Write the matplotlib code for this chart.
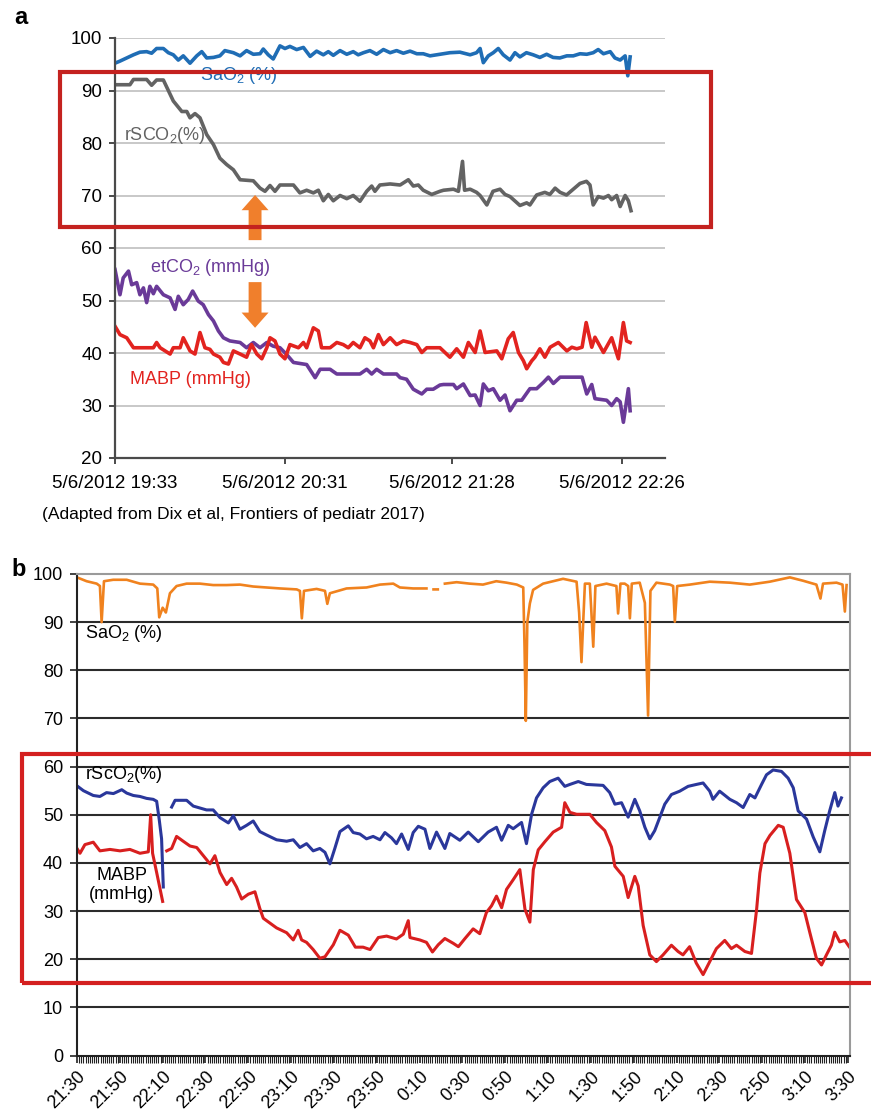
import numpy as np
import matplotlib
matplotlib.use("Agg")
import matplotlib.pyplot as plt
from matplotlib.patches import Rectangle, FancyArrow

plt.rcParams['font.family'] = ['Liberation Sans', 'DejaVu Sans']
plt.rcParams['mathtext.fontset'] = 'custom'
plt.rcParams['mathtext.rm'] = 'Liberation Sans'
plt.rcParams['mathtext.default'] = 'regular'

nan = np.nan

# ---- panel a: minutes after 5/6/2012 19:33 ----
a_tick_min = [0, 58, 115, 173]
a_tick_labels = ["5/6/2012 19:33", "5/6/2012 20:31", "5/6/2012 21:28", "5/6/2012 22:26"]

a_sao2_t = [0, 1.7, 4.0, 6.3, 8.5, 10.8, 12.5, 14.2, 16.5, 18.2, 19.9, 21.6, 23.3, 25.6, 27.9,
            29.6, 31.3, 33.6, 35.8, 37.5, 40.4, 42.7, 44.9, 47.2, 49.5, 50.6, 52.3, 54.0, 56.3,
            58.0, 59.7, 62.0, 64.3, 66.6, 68.8, 71.1, 72.8, 74.5, 76.8, 79.1, 81.3, 83.0, 84.8,
            87.0, 89.3, 91.6, 93.9, 96.1, 98.4, 100.7, 103.0, 105.2, 107.5, 110.9, 114.3, 117.7,
            121.2, 123.4, 124.6, 125.7, 127.4, 129.1, 130.8, 132.5, 134.8, 136.5, 138.2, 140.4,
            142.7, 145.0, 147.3, 149.5, 151.8, 154.2, 156.4, 158.7, 161.0, 163.2, 164.9, 166.7,
            169.0, 170.6, 172.4, 174.1, 175.0, 175.8]
a_sao2 = [95.2, 95.6, 96.2, 96.8, 97.3, 97.4, 97.1, 98.0, 98.0, 97.2, 96.8, 95.8, 96.6, 95.2, 96.6,
          97.4, 96.2, 96.3, 96.6, 97.6, 97.2, 96.6, 97.6, 96.9, 97.0, 97.9, 96.8, 96.0, 98.5,
          98.0, 98.4, 97.8, 98.2, 96.5, 97.5, 96.8, 97.4, 96.7, 97.6, 96.9, 97.4, 96.8, 97.2,
          97.6, 96.9, 97.8, 97.2, 97.6, 97.1, 97.5, 97.0, 97.0, 96.6, 96.9, 97.2, 97.3,
          96.8, 97.2, 98.0, 95.3, 96.6, 97.2, 98.0, 96.8, 95.8, 97.2, 96.4, 97.2,
          96.8, 96.3, 96.9, 96.3, 96.2, 96.6, 96.6, 97.0, 96.9, 97.2, 97.8, 97.0,
          97.4, 96.2, 95.8, 96.6, 92.8, 96.4]

a_rsco2_t = [0, 5.1, 6.3, 10.8, 12.5, 14.2, 16.5, 19.9, 22.8, 24.5, 25.6, 27.3, 29.0, 31.3, 33.6,
             35.8, 38.1, 40.4, 42.7, 47.2, 49.5, 51.2, 52.9, 54.6, 56.3, 60.9, 63.1, 65.4, 67.7,
             69.4, 71.1, 72.8, 74.5, 76.8, 79.1, 81.3, 83.6, 85.9, 87.6, 88.7, 90.4, 93.9, 97.3,
             100.1, 101.8, 103.5, 105.2, 108.1, 110.9, 112.1, 115.5, 117.2, 118.6, 119.3, 121.2,
             123.4, 124.6, 126.9, 129.0, 131.4, 133.1, 134.8, 138.2, 140.5, 141.6, 143.9, 146.7,
             148.4, 150.2, 151.9, 154.1, 156.4, 158.7, 160.9, 162.1, 163.2, 164.9, 166.7, 168.4,
             169.5, 171.2, 172.4, 174.1, 175.2, 176.1]
a_rsco2 = [91.1, 91.1, 92.1, 92.1, 91.0, 92.0, 92.0, 88.0, 86.0, 86.0, 84.8, 85.6, 84.8, 81.6, 79.7,
           77.1, 75.9, 74.9, 73.0, 72.8, 71.4, 70.8, 71.9, 70.8, 72.0, 72.0, 70.5, 71.0, 70.5,
           71.0, 69.0, 70.2, 69.0, 70.0, 69.4, 70.0, 68.9, 70.8, 71.8, 70.8, 72.0, 72.2, 72.0,
           73.0, 71.8, 72.0, 71.0, 70.2, 70.8, 71.0, 71.2, 70.8, 76.5, 71.0, 71.2,
           70.6, 70.0, 68.2, 70.8, 71.2, 70.2, 69.8, 68.1, 68.6, 68.2, 70.1, 70.6,
           70.2, 71.4, 70.6, 70.1, 71.2, 72.3, 72.7, 72.0, 68.2, 69.8, 69.5, 70.0,
           69.2, 70.0, 67.9, 70.0, 69.0, 67.1]

a_etco2_t = [0, 1.7, 2.8, 4.6, 5.7, 7.4, 8.5, 9.7, 10.8, 11.9, 13.1, 14.2, 16.5, 18.8, 20.5, 21.6,
             23.3, 25.0, 26.5, 28.4, 30.1, 31.9, 33.6, 35.3, 37.0, 39.2, 42.7, 44.9, 47.2, 49.5,
             51.8, 54.0, 56.3, 58.6, 60.9, 65.4, 68.3, 70.0, 73.4, 75.7, 83.6, 85.9, 87.6, 89.3,
             91.6, 96.1, 97.3, 99.5, 101.8, 104.7, 106.4, 108.6, 110.9, 112.1, 115.5, 116.6,
             118.9, 121.2, 122.9, 124.6, 125.7, 127.4, 129.1, 131.4, 133.1, 134.8, 137.1, 138.8,
             141.6, 143.9, 146.2, 147.9, 149.6, 151.9, 159.4, 161.0, 162.7, 163.8, 167.8, 169.5,
             171.2, 172.4, 173.5, 175.2, 175.8]
a_etco2 = [55.9, 51.1, 54.3, 55.6, 53.0, 53.4, 51.1, 52.4, 49.6, 52.7, 51.3, 52.7, 51.1, 50.5, 48.3, 50.8,
           49.2, 50.2, 51.8, 49.9, 49.2, 47.3, 46.1, 44.2, 42.9, 42.3, 42.0, 41.0, 42.0, 41.0,
           42.0, 41.3, 41.0, 39.7, 38.2, 37.8, 35.3, 36.9, 36.9, 36.0, 36.0, 36.9, 36.0, 36.9,
           36.0, 36.0, 35.3, 35.0, 33.1, 32.2, 33.1, 33.1, 33.9, 34.0, 34.0, 33.2,
           34.1, 31.9, 32.0, 30.0, 34.1, 32.8, 33.2, 31.0, 32.0, 29.0, 31.0, 31.0,
           33.2, 33.2, 34.4, 35.4, 34.2, 35.4, 35.4, 32.2, 34.0, 31.3, 31.0, 30.0,
           31.3, 30.7, 26.8, 33.2, 29.0]

a_mabp_t = [0, 1.7, 4.0, 6.3, 13.1, 14.2, 15.4, 17.1, 18.8, 19.9, 22.2, 23.3, 25.6, 27.3, 29.0,
            30.7, 32.4, 33.6, 35.8, 37.0, 38.7, 40.4, 42.7, 44.9, 46.6, 48.4, 50.1, 51.8, 52.9,
            54.6, 56.3, 58.0, 59.7, 62.6, 64.3, 65.4, 67.7, 69.4, 70.5, 73.4, 75.7, 77.9, 79.6,
            81.3, 83.6, 85.3, 87.0, 88.2, 89.9, 91.6, 93.9, 96.1, 98.4, 100.7, 103.0, 104.7,
            106.4, 110.9, 114.3, 116.6, 118.9, 120.6, 122.9, 124.6, 126.3, 130.3, 132.0, 134.2,
            135.9, 137.7, 139.4, 140.5, 142.2, 143.3, 145.0, 146.7, 148.5, 151.3, 154.2, 155.9,
            157.6, 159.4, 160.8, 162.7, 163.8, 166.7, 169.5, 171.8, 173.5, 174.6, 175.8]
a_mabp = [45.1, 43.5, 42.9, 41.0, 41.0, 42.0, 41.0, 40.4, 39.8, 41.0, 41.0, 42.9, 40.4, 39.8, 43.9,
          41.0, 40.7, 39.8, 39.2, 38.2, 37.9, 40.4, 39.8, 39.2, 41.6, 39.8, 38.9, 41.0, 42.9,
          42.3, 39.8, 38.9, 41.6, 41.0, 42.0, 41.0, 44.8, 44.2, 41.0, 41.0, 42.0, 41.6, 41.0,
          42.0, 41.0, 42.9, 42.3, 41.0, 43.5, 41.6, 42.9, 41.6, 42.3, 42.0, 41.6, 40.1,
          41.0, 41.0, 39.2, 40.8, 39.2, 42.0, 40.1, 44.2, 40.1, 40.4, 38.9, 42.7,
          43.9, 40.1, 38.5, 37.0, 38.5, 39.2, 40.8, 39.2, 41.1, 42.0, 40.4, 41.1,
          40.8, 41.1, 45.8, 41.1, 43.0, 40.1, 42.9, 38.9, 45.8, 42.3, 42.0]

# ---- panel b: minutes after 21:30 ----
b_tick_min = list(range(0, 361, 20))
b_tick_labels = ["21:30", "21:50", "22:10", "22:30", "22:50", "23:10", "23:30", "23:50", "0:10",
                 "0:30", "0:50", "1:10", "1:30", "1:50", "2:10", "2:30", "2:50", "3:10", "3:30"]

b_sao2_t = [0, 4.5, 9.2, 10.7, 11.5, 12.6, 16.9, 23.2, 29.4, 35.6, 37.5, 38.4, 40.0, 41.5, 43.4,
            46.5, 51.2, 57.4, 63.6, 69.9, 76.1, 82.3, 88.5, 94.8, 102.6, 104.1, 105.0, 106.0,
            111.9, 115.8, 116.9, 118.1, 125.9, 135.2, 141.5, 147.7, 150.8, 157.0, 163.2, 164.0,
            166.5, 168.5, 169.5, 171.8, 177.3, 183.4, 189.6, 195.8, 200.6, 205.4, 208.4, 209.0,
            209.6, 210.3, 211.5, 213.0, 217.7, 227.0, 233.3, 234.5, 235.6, 236.4, 237.2, 239.5,
            241.1, 242.1, 247.3, 251.9, 252.7, 253.8, 255.8, 257.4, 258.2, 259.1, 262.8, 265.2,
            266.7, 267.8, 270.6, 276.9, 278.4, 279.2, 280.3, 286.2, 295.5, 304.9, 314.2, 323.5,
            332.9, 339.1, 345.3, 347.2, 348.4, 354.7, 357.5, 358.6, 359.4]
b_sao2 = [99.3, 98.5, 98.0, 97.5, 90.0, 98.5, 98.8, 98.8, 98.0, 97.8, 97.0, 91.0, 93.0, 92.0, 96.0,
          97.5, 98.0, 98.0, 97.7, 97.7, 97.8, 97.4, 97.2, 97.0, 96.8, 96.5, 90.8, 96.5,
          96.9, 96.5, 93.8, 96.0, 97.0, 97.2, 97.8, 98.0, 97.2, 97.0, 97.0, nan,
          96.8, 96.8, nan, 98.0, 98.3, 98.0, 97.8, 98.5, 98.2, 97.8, 97.2, 85.0,
          69.5, 90.0, 93.9, 96.7, 98.0, 99.0, 98.4, 92.0, 81.7, 90.0, 98.0, 98.0,
          84.9, 97.5, 98.0, 97.5, 91.8, 98.0, 98.0, 97.5, 90.8, 98.0, 98.2, 94.0,
          70.6, 96.5, 98.2, 97.8, 97.5, 90.1, 97.5, 97.8, 98.4, 98.2, 97.8, 98.4,
          99.3, 98.6, 97.8, 94.9, 98.0, 98.2, 97.8, 92.2, 97.7]

b_rsco2_t = [0, 3.0, 7.6, 10.7, 13.8, 17.0, 20.9, 23.2, 26.3, 29.4, 32.5, 35.6, 37.2, 38.4, 39.5,
             40.3, 42.0, 44.2, 45.8, 51.2, 54.3, 60.5, 63.6, 66.8, 70.7, 73.0, 76.1, 79.2, 82.3,
             85.4, 88.5, 93.2, 97.9, 101.0, 104.1, 107.2, 110.3, 113.4, 115.8, 118.1, 120.4,
             122.8, 126.7, 129.0, 132.1, 135.2, 138.3, 141.5, 143.8, 146.9, 149.2, 151.6, 154.7,
             157.0, 159.4, 162.5, 164.8, 167.9, 171.8, 174.1, 178.8, 182.7, 187.4, 192.0, 195.9,
             198.3, 201.4, 203.7, 207.6, 209.9, 212.3, 214.6, 217.7, 220.8, 224.7, 227.8, 230.2,
             234.1, 237.9, 245.7, 248.8, 251.2, 254.3, 257.4, 260.5, 262.8, 265.2, 267.5, 269.8,
             272.2, 274.5, 277.6, 281.5, 285.4, 289.3, 292.4, 295.5, 297.0, 300.1, 304.9, 308.0,
             311.1, 314.2, 316.6, 319.7, 322.0, 325.1, 329.0, 332.1, 334.5, 336.8, 340.7, 343.8,
             346.9, 349.2, 351.5, 353.9, 355.4, 357.0]
b_rsco2 = [56.0, 55.0, 54.0, 53.8, 54.6, 54.4, 55.2, 54.5, 54.0, 53.8, 53.4, 53.2, 52.8, 49.0, 45.0,
           35.0, nan, 51.6, 53.0, 53.0, 51.8, 51.0, 51.0, 49.4, 48.3, 49.8, 47.0, 47.8, 48.7,
           46.5, 45.8, 44.8, 44.5, 44.8, 43.2, 44.0, 42.5, 43.0, 42.2, 39.8, 43.0,
           46.5, 47.7, 46.3, 46.0, 45.0, 45.5, 44.8, 46.3, 45.2, 44.0, 46.0, 42.8,
           46.3, 47.6, 47.0, 43.0, 46.4, 43.0, 46.1, 44.7, 46.4, 44.4, 46.4, 47.4,
           44.7, 47.8, 47.1, 48.4, 44.0, 50.1, 53.5, 55.6, 56.9, 57.6, 55.9, 56.3,
           56.9, 56.3, 56.1, 54.6, 52.2, 52.5, 49.5, 53.2, 50.8, 47.4, 45.0, 46.7,
           49.5, 52.2, 54.2, 54.9, 55.9, 56.3, 56.6, 54.9, 53.2, 54.9, 53.2, 52.5,
           51.5, 54.2, 53.5, 56.3, 58.3, 59.3, 59.0, 57.6, 55.6, 50.8, 49.1, 45.4,
           42.3, 46.7, 50.8, 54.6, 51.8, 53.5]

b_mabp_t = [0, 1.4, 3.7, 7.6, 10.7, 15.4, 20.1, 24.7, 29.4, 33.3, 34.4, 35.3, 37.2, 40.0, 41.0,
            41.9, 44.2, 46.5, 49.6, 52.8, 55.9, 59.0, 62.1, 64.4, 66.8, 69.9, 72.2, 74.5, 76.9,
            80.0, 83.1, 85.4, 87.0, 90.1, 93.2, 97.9, 101.0, 103.3, 104.9, 107.2, 110.3, 113.4,
            115.8, 119.7, 122.8, 126.7, 130.0, 133.6, 136.9, 140.7, 144.6, 149.2, 152.4, 154.7,
            155.5, 160.1, 163.2, 166.0, 168.7, 171.8, 175.7, 178.1, 181.2, 185.0, 188.1, 191.2,
            193.6, 195.9, 198.3, 200.6, 203.7, 206.8, 209.2, 211.5, 213.1, 215.4, 218.5, 222.4,
            226.3, 227.8, 230.2, 233.3, 239.5, 242.6, 246.5, 249.6, 251.2, 255.1, 257.4, 260.5,
            262.1, 264.4, 267.5, 270.6, 273.7, 277.6, 280.7, 283.0, 286.1, 289.2, 292.4, 295.5,
            298.6, 302.5, 305.6, 308.0, 311.9, 315.0, 317.4, 318.9, 321.3, 323.6, 327.5, 329.8,
            332.9, 336.0, 339.9, 342.2, 345.3, 347.7, 350.0, 352.3, 353.9, 356.2, 358.6, 360.6]
b_mabp = [43.0, 42.0, 43.8, 44.3, 42.5, 42.8, 42.5, 42.8, 42.0, 42.3, 50.0, 42.0, 38.0, 32.0, nan,
          42.5, 43.0, 45.5, 44.5, 43.5, 43.2, 41.5, 39.8, 41.5, 38.0, 35.5, 36.8, 35.0, 32.5,
          33.5, 34.0, 30.5, 28.5, 27.5, 26.5, 25.5, 24.0, 26.0, 24.0, 23.5, 22.0, 20.2,
          20.5, 23.0, 26.0, 25.0, 22.5, 22.5, 22.0, 24.5, 24.8, 24.2, 25.2, 28.0,
          24.5, 24.0, 23.5, 21.5, 23.0, 24.3, 23.3, 22.6, 24.3, 26.3, 25.3, 29.7,
          31.1, 33.1, 30.7, 34.5, 36.5, 38.6, 30.4, 27.7, 38.6, 42.7, 44.4, 46.4,
          47.4, 52.5, 50.5, 50.1, 50.1, 48.4, 46.7, 43.3, 39.3, 37.2, 32.8, 37.2,
          35.2, 27.0, 20.9, 19.5, 20.9, 22.9, 21.6, 20.9, 22.6, 19.2, 16.8, 19.5,
          22.2, 23.9, 22.2, 22.9, 21.6, 21.2, 30.4, 37.9, 44.0, 45.7, 47.8, 47.4,
          42.0, 32.4, 29.7, 25.6, 20.2, 18.8, 20.9, 22.9, 25.6, 23.6, 23.9, 22.6]

W, H = 871, 1111
fig = plt.figure(figsize=(W / 100, H / 100), dpi=100)

# ---------------- panel a ----------------
ax_a = fig.add_axes([115 / W, 1 - 458 / H, 550 / W, 420 / H])
ax_a.plot(a_sao2_t, a_sao2, color='#1f6db5', lw=2.6, solid_joinstyle='round')
ax_a.plot(a_rsco2_t, a_rsco2, color='#636363', lw=2.6, solid_joinstyle='round')
ax_a.plot(a_etco2_t, a_etco2, color='#6a3a98', lw=2.6, solid_joinstyle='round')
ax_a.plot(a_mabp_t, a_mabp, color='#e2231f', lw=2.6, solid_joinstyle='round')
ax_a.set_xlim(0, 187.7)
ax_a.set_ylim(20, 100)
ax_a.set_yticks(range(20, 101, 10))
ax_a.set_xticks(a_tick_min)
ax_a.set_xticklabels(a_tick_labels)
ax_a.grid(axis='y', color='#c8c8c8', lw=1.4)
ax_a.set_axisbelow(True)
for s in ['top', 'right']:
    ax_a.spines[s].set_visible(False)
for s in ['left', 'bottom']:
    ax_a.spines[s].set_color('#4a4a4a')
    ax_a.spines[s].set_linewidth(1.6)
ax_a.tick_params(axis='both', colors='#4a4a4a', labelcolor='black', labelsize=13.5,
                 length=4, width=1.4)
ax_a.tick_params(axis='y', pad=5)
ax_a.tick_params(axis='x', pad=8)

ax_a.text(29, 92.8, 'SaO$_2$ (%)', color='#1f6db5', fontsize=13, va='center')
ax_a.text(3.1, 81.5, 'rSCO$_2$(%)', color='#636363', fontsize=13, va='center')
ax_a.text(11.9, 56.2, 'etCO$_2$ (mmHg)', color='#6a3a98', fontsize=13, va='center')
ax_a.text(5.1, 34.9, 'MABP (mmHg)', color='#e2231f', fontsize=13, va='center')

# orange arrows
ax_a.add_patch(FancyArrow(47.8, 61.5, 0, 8.6, width=4.4, head_width=9.2, head_length=2.9,
                          length_includes_head=True, color='#f07f2c', lw=0, zorder=5))
ax_a.add_patch(FancyArrow(47.8, 53.5, 0, -8.7, width=4.4, head_width=9.2, head_length=2.9,
                          length_includes_head=True, color='#f07f2c', lw=0, zorder=5))

# ---------------- panel b ----------------
ax_b = fig.add_axes([77 / W, 1 - 1055.5 / H, 773 / W, 481.5 / H])
ax_b.plot(b_sao2_t, b_sao2, color='#f0821e', lw=1.9)
ax_b.plot(b_rsco2_t, b_rsco2, color='#2a379b', lw=2.2)
ax_b.plot(b_mabp_t, b_mabp, color='#d81f1f', lw=2.2)
ax_b.set_xlim(0, 361)
ax_b.set_ylim(0, 100)
ax_b.set_yticks(range(0, 101, 10))
ax_b.set_xticks(b_tick_min)
ax_b.set_xticklabels(b_tick_labels, rotation=45, ha='right', rotation_mode='anchor')
ax_b.set_xticks(np.arange(0, 361, 1), minor=True)
for v in range(10, 100, 10):
    ax_b.axhline(v, color='#2b2b2b', lw=1.5, zorder=0)
ax_b.spines['top'].set_color('#9a9a9a')
ax_b.spines['right'].set_color('#9a9a9a')
ax_b.spines['left'].set_color('#222222')
ax_b.spines['bottom'].set_color('#222222')
for s in ax_b.spines.values():
    s.set_linewidth(1.5)
ax_b.tick_params(axis='both', which='major', length=5, width=1.2, colors='#222222',
                 labelcolor='black', labelsize=13)
ax_b.tick_params(axis='x', which='minor', length=5, width=0.8, colors='#222222')
ax_b.tick_params(axis='y', pad=5)
ax_b.tick_params(axis='x', pad=4)

ax_b.text(3.7, 87.7, 'SaO$_2$ (%)', color='black', fontsize=13, va='center')
ax_b.text(3.7, 58.3, 'rScO$_2$(%)', color='black', fontsize=13, va='center')
ax_b.text(21.0, 35.4, 'MABP\n(mmHg)', color='black', fontsize=13, va='center', ha='center',
          linespacing=1.2)

# ---------------- figure annotations ----------------
fig.text(14 / W, 1 - 18 / H, 'a', fontsize=17, fontweight='bold', va='center')
fig.text(11 / W, 1 - 569 / H, 'b', fontsize=17, fontweight='bold', va='center')
fig.text(42 / W, 1 - 514 / H, '(Adapted from Dix et al, Frontiers of pediatr 2017)',
         fontsize=12.5, va='center')

fig.add_artist(Rectangle((60 / W, 1 - 227 / H), 651 / W, 155 / H, transform=fig.transFigure,
                         fill=False, edgecolor='#c4221f', lw=3, zorder=10))
fig.add_artist(Rectangle((22 / W, 1 - 983 / H), 880 / W, 229 / H, transform=fig.transFigure,
                         fill=False, edgecolor='#d42020', lw=3, zorder=10, clip_on=False))

fig.savefig('out.png', dpi=100, facecolor='white')
